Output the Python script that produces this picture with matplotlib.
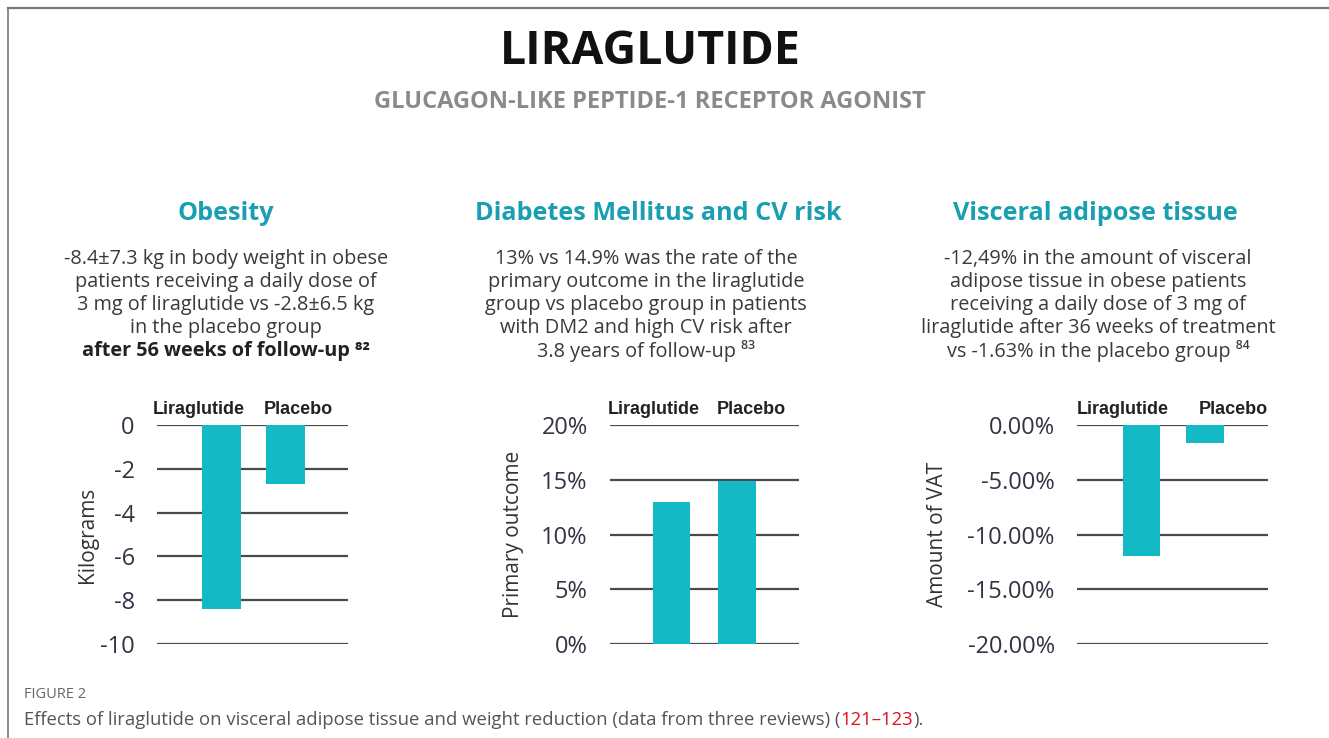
import numpy as np
import matplotlib
matplotlib.use("Agg")
import matplotlib.pyplot as plt
from matplotlib.lines import Line2D

## DATA
groups = ["Liraglutide", "Placebo"]
weight_kg = [-8.4, -2.7]          # obesity, change in body weight
primary_outcome = [13.0, 14.9]    # DM and CV risk, % primary outcome
vat_change = [-12.0, -1.6]        # visceral adipose tissue, % change

obesity_ticks = [0, -2, -4, -6, -8, -10]
outcome_ticks = [0, 5, 10, 15, 20]
vat_ticks = [0, -5, -10, -15, -20]

panel_titles = ["Obesity", "Diabetes Mellitus and CV risk", "Visceral adipose tissue"]
panel_ylabels = ["Kilograms", "Primary outcome", "Amount of VAT"]
panel_texts = [
    ["-8.4\u00b17.3 kg in body weight in obese",
     "patients receiving a daily dose of",
     "3 mg of liraglutide vs -2.8\u00b16.5 kg",
     "in the placebo group"],
    ["13% vs 14.9% was the rate of the",
     "primary outcome in the liraglutide",
     "group vs placebo group in patients",
     "with DM2 and high CV risk after"],
    ["-12,49% in the amount of visceral",
     "adipose tissue in obese patients",
     "receiving a daily dose of 3 mg of",
     "liraglutide after 36 weeks of treatment"],
]
panel_last = ["after 56 weeks of follow-up \u2078\u00b2",
              "3.8 years of follow-up \u2078\u00b3",
              "vs -1.63% in the placebo group \u2078\u2074"]

W, H = 1329, 738
TEAL = "#13bac6"
TITLE_TEAL = "#1a9fb2"
GRID = "#4a4a4a"
TXT = "#3a3a3a"
FONT = ["Open Sans", "DejaVu Sans"]

plt.rcParams['font.family'] = FONT

fig = plt.figure(figsize=(W / 100, H / 100), dpi=100)

def fx(px):
    return px / W

def fy(py):
    return 1 - py / H

# frame lines (top and left)
fig.add_artist(Line2D([fx(8), 1], [fy(8), fy(8)], color="#777777", lw=1.6))
fig.add_artist(Line2D([fx(8), fx(8)], [fy(8), 0], color="#777777", lw=1.2))

# headings
fig.text(fx(650), fy(52), "LIRAGLUTIDE", ha="center", va="center",
         fontsize=33.5, fontweight="bold", color="#111111")
fig.text(fx(650), fy(102), "GLUCAGON-LIKE PEPTIDE-1 RECEPTOR AGONIST", ha="center",
         va="center", fontsize=17, fontweight="bold", color="#8a8a8a")

title_x = [226, 658, 1095]
centers = [226, 646, 1098]
line_y = [259, 282, 305, 328]
for i in range(3):
    fig.text(fx(title_x[i]), fy(214), panel_titles[i], ha="center", va="center",
             fontsize=18.2, fontweight="bold", color=TITLE_TEAL)
    for j, line in enumerate(panel_texts[i]):
        fig.text(fx(centers[i]), fy(line_y[j]), line, ha="center", va="center",
                 fontsize=14.3, color=TXT)
    fig.text(fx(centers[i]), fy(351), panel_last[i], ha="center", va="center",
             fontsize=14.3, color="#222222" if i == 0 else TXT,
             fontweight="bold" if i == 0 else "normal")

# axes: (left px, right px, xlim, bar width, values, ticks, tick labels, ylim)
panels = [
    (157, 348, (-1.0, 1.97), 0.6, weight_kg, obesity_ticks,
     [str(t) for t in obesity_ticks], (-10, 0)),
    (610, 799, (-0.94, 1.95), 0.58, primary_outcome, outcome_ticks,
     ["%d%%" % t for t in outcome_ticks], (0, 20)),
    (1077, 1268, (-1.02, 2.0), 0.6, vat_change, vat_ticks,
     ["%.2f%%" % t for t in vat_ticks], (-20, 0)),
]
label_pos = [-0.31, -0.455, -0.675]
head_pos = [(0.22, 0.74), (0.23, 0.75), (0.24, 0.82)]

for i, (l, r, xl, bw, vals, ticks, tlabels, yl) in enumerate(panels):
    ax = fig.add_axes([fx(l), fy(644), fx(r - l), (644 - 425) / H])
    ax.bar(range(len(groups)), vals, width=bw, color=TEAL, zorder=3)
    for t in ticks:
        ax.axhline(t, color=GRID, lw=1.6, zorder=1)
    ax.set_xlim(*xl)
    ax.set_ylim(*yl)
    ax.set_yticks(ticks)
    ax.set_yticklabels(tlabels)
    ax.set_xticks([])
    ax.tick_params(axis="y", length=0, pad=16, labelsize=17, labelcolor="#333344")
    for s in ax.spines.values():
        s.set_visible(False)
    ax.set_ylabel(panel_ylabels[i], fontsize=15, color="#333333")
    ax.yaxis.set_label_coords(label_pos[i], 0.5)
    for g, xp in zip(groups, head_pos[i]):
        ax.text(xp, 1.07, g, transform=ax.transAxes, ha="center", va="center",
                fontsize=13, fontweight="bold", color="#222222",
                family=["Liberation Sans", "DejaVu Sans"])

# caption
fig.text(fx(24), fy(695), "FIGURE 2", ha="left", va="center", fontsize=10.5,
         color="#666666")
cap = fig.text(fx(24), fy(720),
               "Effects of liraglutide on visceral adipose tissue and weight reduction "
               "(data from three reviews) (", ha="left", va="center", fontsize=13.3,
               color="#555555")
ref = fig.text(0, 0, "121\u2013123", fontsize=13.3, color="#e0141e", ha="left")
end = fig.text(0, 0, ").", fontsize=13.3, color="#555555", ha="left")

fig.canvas.draw()
rend = fig.canvas.get_renderer()
inv = fig.transFigure.inverted()

def place_after(prev, art):
    bb = prev.get_window_extent(rend)
    x0 = inv.transform((bb.x1, 0))[0]
    art.set_position((x0, prev.get_position()[1]))
    art.set_va(prev.get_va())

place_after(cap, ref)
fig.canvas.draw()
place_after(ref, end)

fig.savefig("out.png", dpi=100)
